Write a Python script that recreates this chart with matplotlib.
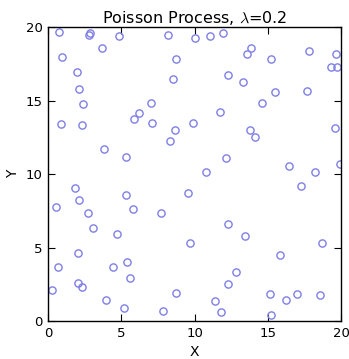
import matplotlib
matplotlib.use('Agg')
import matplotlib.pyplot as plt
import numpy as np

#===============================================================================#
# data                                                                          #
#===============================================================================#

rate = 0.2

xs = [0.73, 2.85, 2.80, 4.85, 8.19, 10.05, 11.06, 11.90, 3.69, 13.86,
      13.54, 15.20, 17.82, 19.66, 0.96, 8.72, 19.32, 19.69, 1.98, 12.25,
      8.49, 13.29, 2.08, 15.45, 17.64, 2.37, 7.01, 14.57, 6.19, 5.87,
      11.74, 0.87, 2.32, 7.06, 9.88, 8.67, 8.33, 13.75, 14.09, 19.57,
      3.80, 5.30, 12.11, 16.45, 19.89, 10.78, 18.18, 17.27, 1.84, 5.32,
      9.54, 2.10, 0.55, 5.78, 2.69, 7.67, 3.03, 12.27, 4.67, 13.41,
      9.71, 18.70, 2.03, 15.80, 5.39, 0.66, 4.44, 12.79, 5.60, 2.03,
      2.30, 0.27, 12.29, 8.70, 15.13, 17.00, 18.53, 16.23, 3.96, 11.38,
      5.19, 7.83, 11.81, 15.18]

ys = [19.66, 19.59, 19.46, 19.39, 19.46, 19.29, 19.43, 19.61, 18.59, 18.61,
      18.20, 17.86, 18.39, 18.16, 17.98, 17.82, 17.32, 17.32, 16.98, 16.73,
      16.48, 16.30, 15.78, 15.58, 15.65, 14.80, 14.83, 14.87, 14.15, 13.74,
      14.22, 13.42, 13.33, 13.51, 13.46, 13.01, 12.29, 13.01, 12.54, 13.13,
      11.72, 11.16, 11.09, 10.56, 10.68, 10.14, 10.14, 9.22, 9.07, 8.59,
      8.71, 8.27, 7.78, 7.62, 7.39, 7.37, 6.37, 6.64, 5.96, 5.78,
      5.34, 5.35, 4.65, 4.49, 4.01, 3.71, 3.71, 3.37, 2.93, 2.63,
      2.31, 2.15, 2.52, 1.90, 1.88, 1.84, 1.81, 1.47, 1.47, 1.36,
      0.93, 0.70, 0.63, 0.43]

ticks = [0, 5, 10, 15, 20]

#===============================================================================#
# plot                                                                          #
#===============================================================================#

plt.rcParams['mathtext.fontset'] = 'cm'

fig = plt.figure( figsize=(3.49, 3.59), dpi=100 )
ax = fig.add_axes( [0.138, 0.105, 0.840, 0.819] )

ax.plot( xs, ys, 'o', markersize=5.2, markerfacecolor='none',
         markeredgecolor='#7f7fe6', markeredgewidth=1.0 )

ax.set_xlim( 0, 20 )
ax.set_ylim( 0, 20 )
ax.set_xticks( ticks )
ax.set_yticks( ticks )
ax.tick_params( direction='in', top=True, right=True, length=5, width=0.8,
                labelsize=9.5, pad=4 )
for s in ax.spines.values():
    s.set_linewidth( 1.0 )

ax.set_title( r'Poisson Process, $\lambda$=0.2', fontsize=11.5, pad=3 )
ax.set_xlabel( 'X', fontsize=10 )
ax.set_ylabel( 'Y', fontsize=10 )

fig.savefig( 'out.png', dpi=100 )
